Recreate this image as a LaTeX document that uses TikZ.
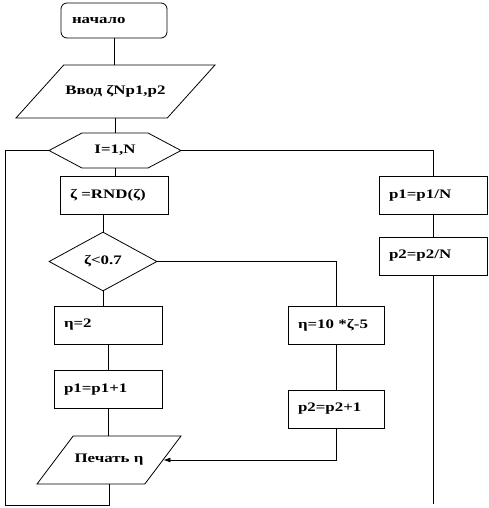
\documentclass[tikz,border=0pt]{standalone}
\usepackage{fontspec}
\setmainfont[FakeStretch=1.3]{Liberation Serif}
\usetikzlibrary{shapes.geometric,arrows.meta}

\begin{document}
\begin{tikzpicture}[x=1pt, y=-1pt, line width=0.8pt,
    every node/.style={font=\bfseries\fontsize{13}{15}\selectfont},
    blk/.style={draw, rectangle, minimum height=38, inner xsep=10, text width=#1, align=left},
    io/.style={draw, trapezium, trapezium stretches body, inner xsep=0, text height=8.5, text depth=3},
    flow/.style={-{Latex[length=7pt, width=5pt]}}]
\useasboundingbox (0,0) rectangle (489,508);
\node[draw, rounded corners=6, minimum height=35, inner xsep=11, text width=84, align=left] (start) at (114,20.5) {начало};
\node[io, trapezium left angle=48, trapezium right angle=132, inner ysep=20.75, minimum width=199] (input) at (115.5,91.5) {Ввод ζNp1,p2};
\node[minimum width=132, minimum height=35, outer sep=0] (cycle) at (115,150.5) {I=1,N};
\draw (cycle.west) -- ([xshift=33]cycle.north west) -- ([xshift=-33]cycle.north east) -- (cycle.east)
    -- ([xshift=-33]cycle.south east) -- ([xshift=33]cycle.south west) -- cycle;
\node[blk=88] (rnd) at (114,195) {ζ =RND(ζ)};
\node[draw, diamond, minimum width=108, minimum height=59, inner sep=0] (cond) at (103,261.5) {ζ<0.7};
\node[blk=88] (eta2) at (108,325) {η=2};
\node[blk=88] (inc1) at (108,389.5) {p1=p1+1};
\node[io, trapezium left angle=53, trapezium right angle=127, inner ysep=18.25, minimum width=144] (print) at (109,460) {Печать η};
\node[blk=76] (eta10) at (336,325) {η=10 *ζ-5};
\node[blk=76] (inc2) at (336,409) {p2=p2+1};
\node[blk=88] (norm1) at (433,195.5) {p1=p1/N};
\node[blk=88] (norm2) at (433,256) {p2=p2/N};
\coordinate (exit) at (433,504);
\coordinate (back) at (5,505);

\draw (start.south) -- (start.south |- input.north);
\draw (input.south) -- (input.south |- cycle.north);
\draw (cycle.south) -- (cycle.south |- rnd.north);
\draw (cond.north |- rnd.south) -- (cond.north);
\draw (cond.south) -- (cond.south |- eta2.north);
\draw (eta2) -- (inc1);
\draw (inc1.south) -- (inc1.south |- print.north);
\draw (cond.east) -| (eta10.north);
\draw (eta10) -- (inc2);
\draw[flow] (inc2.south) |- (print.east);
\draw (cycle.east) -| (norm1.north);
\draw (norm1) -- (norm2);
\draw (norm2) -- (exit);
\draw (print.south) |- (back) |- (cycle.west);
\end{tikzpicture}
\end{document}
